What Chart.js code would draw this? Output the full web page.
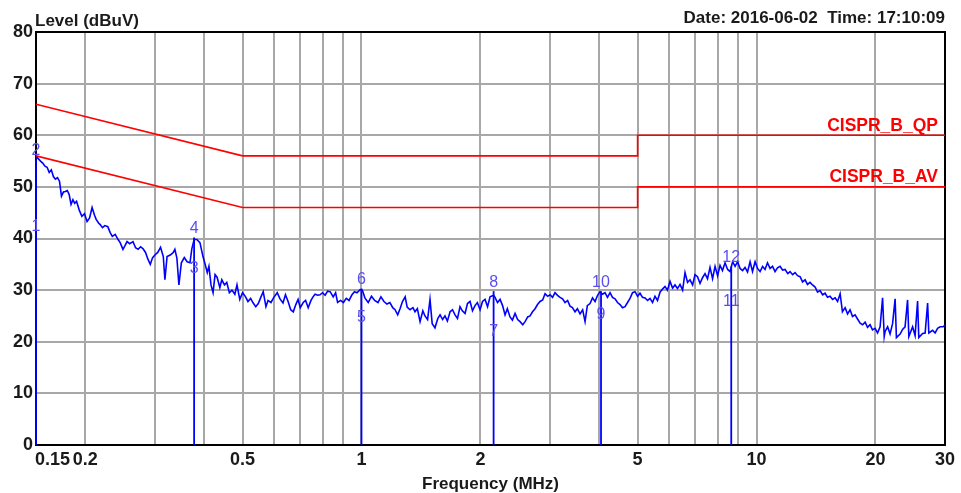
<!DOCTYPE html>
<html>
<head>
<meta charset="utf-8">
<script src="https://cdn.jsdelivr.net/npm/chart.js@4/dist/chart.umd.min.js"></script>
<style>
  html, body { margin: 0; padding: 0; background: #fff; }
</style>
</head>
<body>
<canvas id="emi" width="961" height="493"></canvas>
<script>
// sweep frequencies (MHz) and measured level (dBuV)
const freqs = [
  0.150,0.151,0.154,0.156,0.158,0.160,0.162,0.164,0.166,0.168,
  0.170,0.172,0.174,0.176,0.178,0.180,0.182,0.184,0.186,0.188,
  0.190,0.193,0.196,0.199,0.202,0.205,0.208,0.211,0.213,0.216,
  0.218,0.221,0.224,0.228,0.231,0.234,0.238,0.242,0.245,0.249,
  0.252,0.255,0.259,0.264,0.268,0.272,0.276,0.280,0.284,0.288,
  0.292,0.296,0.300,0.305,0.310,0.315,0.318,0.322,0.328,0.334,
  0.337,0.341,0.345,0.350,0.356,0.362,0.368,0.372,0.377,0.383,
  0.390,0.397,0.402,0.407,0.411,0.416,0.421,0.426,0.431,0.438,
  0.443,0.450,0.456,0.463,0.470,0.478,0.484,0.492,0.500,0.508,
  0.516,0.524,0.531,0.540,0.548,0.556,0.564,0.573,0.580,0.590,
  0.600,0.612,0.622,0.633,0.642,0.652,0.662,0.672,0.682,0.691,
  0.700,0.712,0.722,0.733,0.745,0.754,0.763,0.775,0.785,0.797,
  0.809,0.821,0.833,0.848,0.860,0.870,0.885,0.900,0.915,0.930,
  0.946,0.960,0.974,0.992,1.005,1.020,1.040,1.060,1.080,1.101,
  1.120,1.140,1.160,1.180,1.200,1.216,1.235,1.252,1.270,1.290,
  1.305,1.327,1.350,1.366,1.385,1.407,1.430,1.448,1.470,1.491,
  1.510,1.535,1.560,1.581,1.605,1.627,1.650,1.676,1.700,1.725,
  1.750,1.776,1.800,1.829,1.855,1.883,1.910,1.938,1.965,1.996,
  2.025,2.055,2.085,2.116,2.160,2.178,2.210,2.243,2.276,2.309,
  2.340,2.377,2.410,2.448,2.485,2.520,2.560,2.595,2.635,2.671,
  2.710,2.751,2.790,2.832,2.875,2.916,2.960,3.002,3.045,3.090,
  3.135,3.182,3.228,3.276,3.325,3.372,3.420,3.472,3.520,3.575,
  3.630,3.681,3.730,3.789,3.845,3.902,3.960,4.017,4.075,4.135,
  4.195,4.258,4.320,4.383,4.448,4.513,4.580,4.647,4.715,4.784,
  4.855,4.926,5.000,5.071,5.145,5.221,5.300,5.375,5.455,5.534,
  5.615,5.698,5.780,5.866,5.950,6.040,6.130,6.218,6.310,6.402,
  6.500,6.592,6.690,6.786,6.890,6.987,7.090,7.195,7.300,7.407,
  7.515,7.626,7.740,7.853,7.970,8.085,8.200,8.325,8.450,8.572,
  8.700,8.826,8.955,9.086,9.220,9.354,9.490,9.632,9.770,9.917,
  10.06,10.21,10.36,10.51,10.66,10.82,10.98,11.14,11.30,11.47,
  11.64,11.81,12.00,12.16,12.34,12.52,12.70,12.89,13.08,13.27,
  13.46,13.66,13.86,14.07,14.27,14.48,14.70,14.91,15.13,15.35,
  15.58,15.81,16.04,16.28,16.50,16.76,17.00,17.25,17.50,17.76,
  18.02,18.29,18.56,18.83,19.10,19.38,19.66,19.96,20.25,20.55,
  20.85,21.05,21.16,21.47,21.78,22.10,22.43,22.60,23.09,23.43,
  23.77,24.12,24.30,24.84,25.20,25.57,25.75,26.33,26.72,27.11,
  27.30,27.91,28.32,28.73,29.16,29.67,30.00
];
const levels = [
  55.5,55.7,55.0,54.6,54.0,53.8,52.8,53.3,52.0,51.5,
  51.8,51.1,48.2,49.0,49.1,49.3,48.5,46.6,47.5,46.8,
  47.2,45.5,44.3,44.8,43.3,44.0,46.0,44.5,43.7,43.0,
  42.7,42.1,42.5,42.3,41.2,40.4,40.8,39.8,39.2,37.9,
  38.6,39.4,39.0,39.4,38.2,37.9,38.4,38.0,37.3,36.0,
  35.0,36.3,36.8,37.3,38.3,36.5,32.0,36.5,36.8,37.3,
  37.9,36.2,31.0,35.3,36.3,35.5,35.3,38.0,39.8,39.8,
  39.2,36.5,35.0,33.4,34.6,31.0,29.5,33.0,32.5,30.5,
  32.0,31.0,31.5,29.5,30.0,29.2,31.0,28.2,29.5,28.8,
  27.8,28.4,27.6,26.8,27.4,28.6,29.7,26.8,28.0,27.6,
  28.6,29.5,28.3,27.5,29.1,27.8,26.2,25.8,27.2,28.2,
  26.6,27.6,28.0,26.6,28.0,28.7,29.2,29.0,29.1,29.5,
  29.0,29.8,29.7,28.7,29.5,27.6,28.0,27.6,28.4,28.0,
  29.1,29.7,29.5,30.1,30.0,28.5,27.6,28.8,28.0,27.6,
  28.7,27.8,27.3,27.6,26.6,26.2,25.2,26.4,27.8,28.7,
  26.7,26.2,26.6,25.8,26.4,23.9,26.0,25.0,24.3,28.2,
  23.5,22.7,24.5,25.2,24.3,25.0,24.0,25.8,26.2,25.2,
  24.5,26.8,26.0,25.5,27.4,27.8,26.0,27.0,27.6,26.2,
  27.8,28.2,26.8,28.7,29.0,28.6,27.6,28.2,27.0,25.2,
  26.4,24.8,24.2,25.5,24.3,23.9,23.3,23.9,24.8,25.0,
  25.8,26.4,27.2,27.8,28.1,29.3,28.8,29.1,28.6,29.5,
  29.0,28.6,28.3,27.6,28.0,26.9,26.6,25.8,26.4,25.4,
  26.2,23.9,27.0,27.4,28.5,27.8,29.0,29.7,29.2,29.5,
  28.6,29.5,28.6,28.3,27.6,27.2,26.6,26.8,27.6,28.4,
  29.5,29.7,28.8,29.4,28.6,28.5,28.0,28.4,27.6,28.8,
  28.0,29.6,30.2,30.7,30.0,31.7,30.4,31.0,30.3,31.1,
  30.0,33.4,31.5,32.0,31.0,33.0,32.6,31.3,32.4,33.2,
  32.2,34.4,32.2,34.6,32.8,34.8,33.8,35.3,34.0,33.6,
  35.5,34.6,35.5,34.2,33.8,34.4,33.5,35.5,33.6,35.5,
  34.2,33.6,34.6,34.0,35.3,34.2,34.6,33.6,34.3,34.6,
  33.9,34.0,33.2,33.6,33.0,33.4,32.8,32.6,31.6,32.0,
  31.1,31.5,31.0,30.6,29.6,29.9,29.1,29.4,28.6,28.8,
  28.2,28.5,27.8,29.3,25.8,26.6,25.4,26.2,24.9,25.2,
  24.4,23.6,23.3,23.8,22.8,23.3,22.3,22.6,21.7,22.9,
  28.5,21.0,22.0,22.9,21.5,23.5,28.3,20.8,21.5,22.4,
  22.9,28.1,21.0,22.9,21.2,27.9,20.8,21.6,21.7,27.5,
  21.7,22.2,21.7,22.6,22.9,22.9,23.2
];

// final measurement markers (QP = even id, AV = odd id)
const markerFreqs = [0.15, 0.377, 1.0, 2.16, 4.04, 8.63];
const markerQP = [55.2, 40.2, 30.3, 29.8, 29.8, 34.6];
const markerAV = [42.3, 34.2, 24.7, 21.9, 25.2, 27.8];
const markerQPIds = ['2', '4', '6', '8', '10', '12'];
const markerAVIds = ['1', '3', '5', '7', '9', '11'];

// limit lines
const limitFreqs = [0.15, 0.5, 5, 5, 30];
const qpLimit = [66, 56, 56, 60, 60];
const avLimit = [56, 46, 46, 50, 50];
const limitNames = ['CISPR_B_QP', 'CISPR_B_AV'];

// axes
const gridFreqs = [0.15, 0.2, 0.3, 0.4, 0.5, 0.6, 0.7, 0.8, 0.9, 1, 2, 3, 4, 5, 6, 7, 8, 9, 10, 20, 30];
const xTickVals = [0.15, 0.2, 0.5, 1, 2, 5, 10, 20, 30];
const xTickLabels = ['0.15', '0.2', '0.5', '1', '2', '5', '10', '20', '30'];

const FONT = '"Liberation Sans", Arial, sans-serif';
const TXT = '#1a1a1a';
const GRID = '#a8a8a8';

const pts = (xs, ys) => xs.map((v, i) => ({ x: v, y: ys[i] }));

const markerSets = markerFreqs.map((f, i) => ({
  data: [{ x: f, y: 0 }, { x: f, y: markerQP[i] }],
  borderColor: '#0000ff',
  borderWidth: 1.8,
  pointRadius: 0,
  clip: 4
}));

const overlay = {
  id: 'overlay',
  beforeDatasetsDraw(chart) {
    const { ctx, chartArea: a } = chart;
    ctx.save();
    ctx.strokeStyle = '#000';
    ctx.lineWidth = 2;
    ctx.strokeRect(a.left, a.top, a.right - a.left, a.bottom - a.top);
    ctx.restore();
  },
  afterDatasetsDraw(chart) {
    const { ctx, chartArea: a, scales: { x, y } } = chart;
    ctx.save();

    // marker ids
    ctx.font = '16px ' + FONT;
    ctx.fillStyle = '#5b4ef0';
    ctx.textAlign = 'center';
    markerFreqs.forEach((f, i) => {
      const px = x.getPixelForValue(f);
      ctx.textBaseline = 'bottom';
      ctx.fillText(markerQPIds[i], px, y.getPixelForValue(markerQP[i]) - 1);
      ctx.textBaseline = 'middle';
      ctx.fillText(markerAVIds[i], px, y.getPixelForValue(markerAV[i]));
    });

    // limit names
    ctx.font = 'bold 17.5px ' + FONT;
    ctx.fillStyle = '#ff0000';
    ctx.textAlign = 'right';
    ctx.textBaseline = 'alphabetic';
    ctx.fillText(limitNames[0], x.getPixelForValue(30) - 7, y.getPixelForValue(qpLimit[4]) - 4);
    ctx.fillText(limitNames[1], x.getPixelForValue(30) - 7, y.getPixelForValue(avLimit[4]) - 5);

    // x tick labels
    ctx.font = 'bold 18px ' + FONT;
    ctx.fillStyle = TXT;
    xTickVals.forEach((v, i) => {
      ctx.textAlign = i === 0 ? 'left' : 'center';
      const px = x.getPixelForValue(v) - (i === 0 ? 1 : 0);
      ctx.fillText(xTickLabels[i], px, a.bottom + 20);
    });

    // titles
    ctx.font = 'bold 17px ' + FONT;
    ctx.textAlign = 'left';
    ctx.fillText('Level (dBuV)', a.left - 1, 26);
    ctx.textAlign = 'right';
    ctx.fillText('Date: 2016-06-02  Time: 17:10:09', a.right, 23);
    ctx.textAlign = 'center';
    ctx.fillText('Frequency (MHz)', (a.left + a.right) / 2, a.bottom + 44);
    ctx.restore();
  }
};

new Chart(document.getElementById('emi'), {
  type: 'line',
  data: {
    datasets: [
      ...markerSets,
      {
        data: pts(freqs, levels),
        borderColor: '#0000ff',
        borderWidth: 1.6,
        pointRadius: 0
      },
      {
        data: pts(limitFreqs, qpLimit),
        borderColor: '#ff0000',
        borderWidth: 1.6,
        pointRadius: 0
      },
      {
        data: pts(limitFreqs, avLimit),
        borderColor: '#ff0000',
        borderWidth: 1.6,
        pointRadius: 0
      }
    ]
  },
  options: {
    responsive: false,
    devicePixelRatio: 1,
    animation: false,
    layout: { padding: { left: 0, top: 32, right: 16, bottom: 0 } },
    plugins: { legend: { display: false }, tooltip: { enabled: false } },
    elements: { line: { tension: 0 } },
    scales: {
      x: {
        type: 'logarithmic',
        min: 0.15,
        max: 30,
        afterBuildTicks(scale) {
          scale.ticks = gridFreqs.map(v => ({ value: v }));
        },
        afterFit(scale) { scale.height = 48; },
        ticks: { display: false },
        grid: { color: GRID, lineWidth: 2, drawTicks: false },
        border: { display: false }
      },
      y: {
        min: 0,
        max: 80,
        afterFit(scale) { scale.width = 36; },
        ticks: {
          stepSize: 10,
          padding: 3,
          color: TXT,
          font: { family: FONT, size: 18, weight: 'bold' }
        },
        grid: { color: GRID, lineWidth: 2, drawTicks: false },
        border: { display: false }
      }
    }
  },
  plugins: [overlay]
});
</script>
</body>
</html>
